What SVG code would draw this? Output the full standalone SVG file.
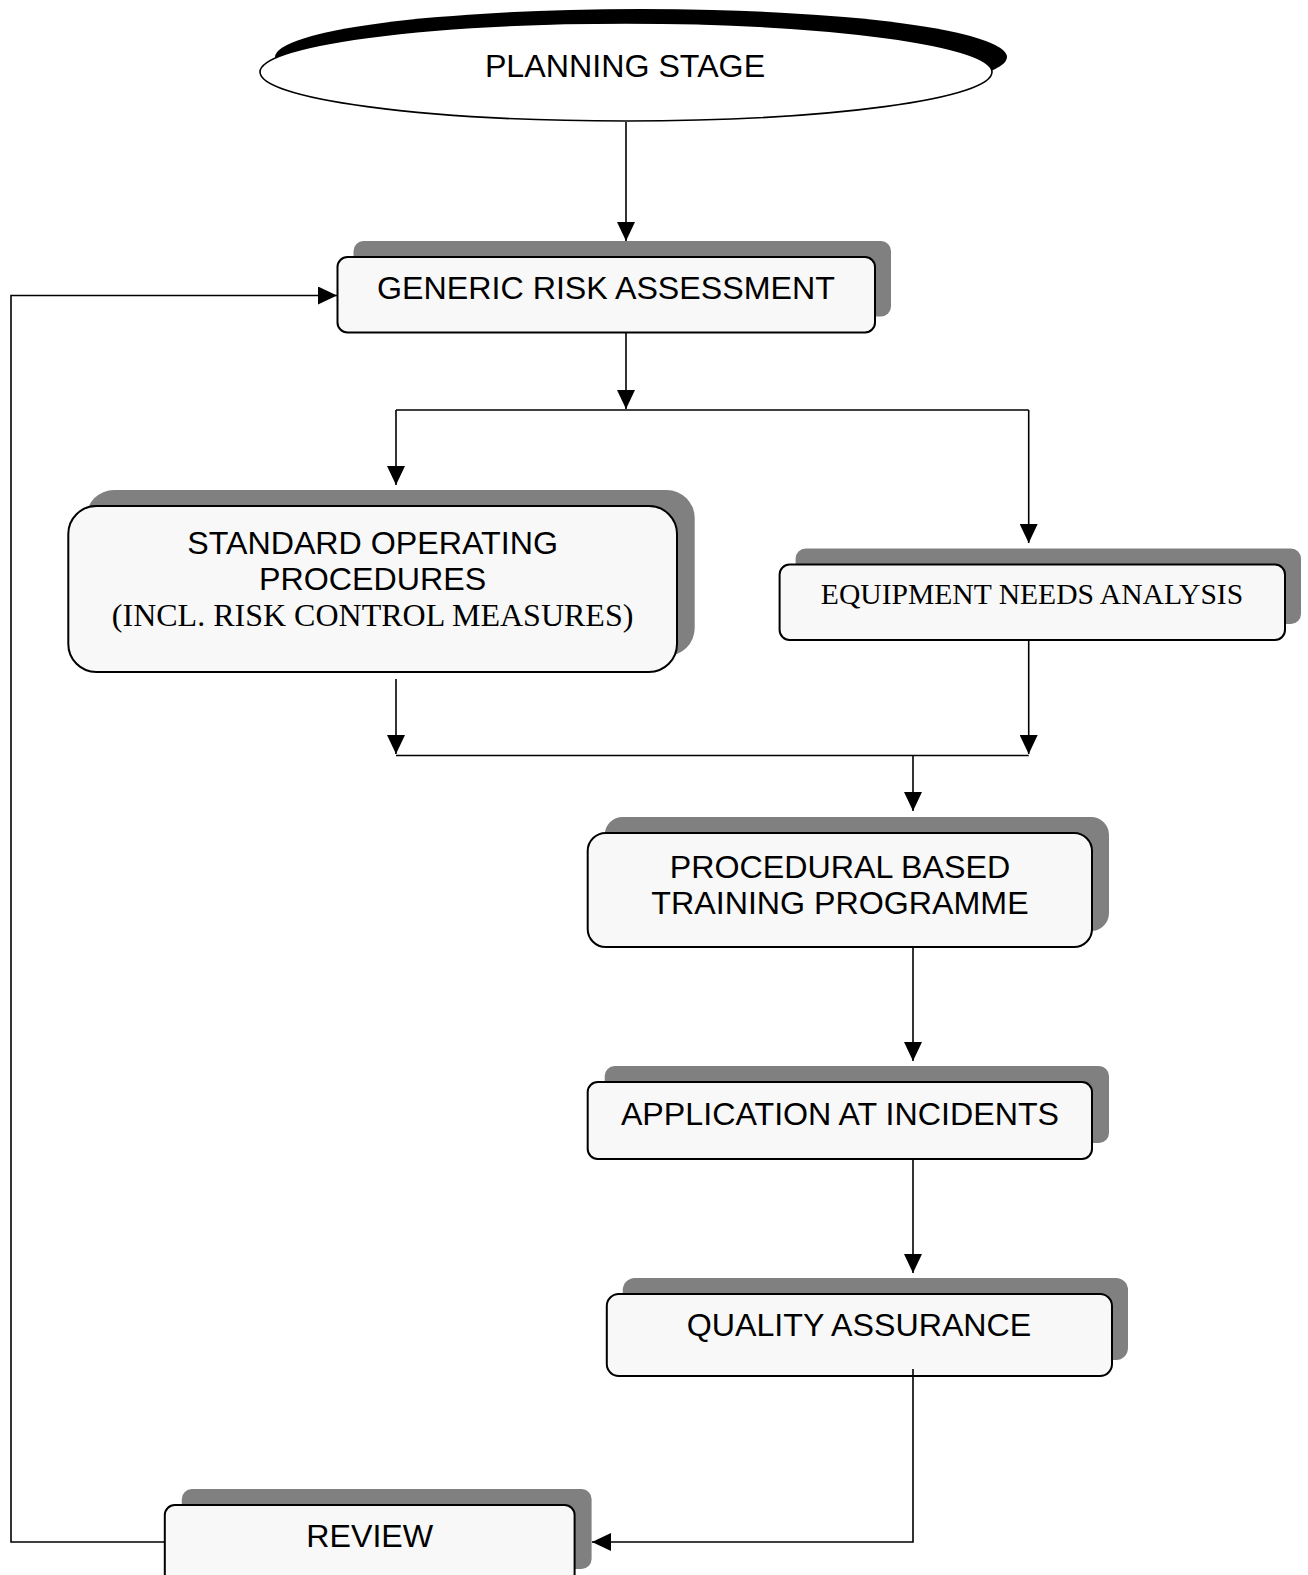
<svg xmlns="http://www.w3.org/2000/svg" width="1308" height="1575" viewBox="0 0 1308 1575">
<style>
.sh{fill:#808080;stroke:none}
.bx{fill:#f8f8f8;stroke:#000;stroke-width:2}
.a{font-family:"Liberation Sans",Arial,sans-serif;font-size:32.2px;fill:#000;text-anchor:middle}
.t{font-family:"Liberation Serif","Times New Roman",serif;font-size:32px;fill:#000;text-anchor:middle}
.c{fill:none;stroke:#000;stroke-width:1.6}
</style>
<defs>
<marker id="ah" viewBox="0 0 19 18" refX="19" refY="9" markerWidth="19" markerHeight="18" markerUnits="userSpaceOnUse" orient="auto">
<path d="M0,0 L19,9 L0,18 Z" fill="#000"/>
</marker>
</defs>
<rect width="1308" height="1575" fill="#fff"/>
<g id="planning">
<ellipse cx="641" cy="57" rx="366" ry="48" fill="#000"/>
<ellipse cx="626" cy="72" rx="366" ry="49" fill="#fff" stroke="#000" stroke-width="1.6"/>
<text class="a" x="625" y="77">PLANNING STAGE</text>
</g>
<g id="generic">
<rect class="sh" x="353.5" y="241" width="537.5" height="75.5" rx="10"/>
<rect class="bx" x="337.5" y="257" width="537.5" height="75.5" rx="10"/>
<text class="a" x="606" y="299">GENERIC RISK ASSESSMENT</text>
</g>
<g id="sop">
<rect class="sh" x="86" y="490" width="608.7" height="166" rx="28"/>
<rect class="bx" x="68.3" y="506" width="608.7" height="166" rx="28"/>
<text class="a" x="372.6" y="554">STANDARD OPERATING</text>
<text class="a" x="372.6" y="590">PROCEDURES</text>
<text class="t" x="372.6" y="626">(INCL. RISK CONTROL MEASURES)</text>
</g>
<g id="equipment">
<rect class="sh" x="795.6" y="548.6" width="505.4" height="75.4" rx="10"/>
<rect class="bx" x="779.6" y="564.6" width="505.4" height="75.4" rx="10"/>
<text class="t" x="1032" y="604" style="font-size:29.6px">EQUIPMENT NEEDS ANALYSIS</text>
</g>
<g id="procedural">
<rect class="sh" x="604.7" y="817" width="504.3" height="114" rx="18"/>
<rect class="bx" x="587.7" y="833" width="504.3" height="114" rx="18"/>
<text class="a" x="840" y="878">PROCEDURAL BASED</text>
<text class="a" x="840" y="914">TRAINING PROGRAMME</text>
</g>
<g id="application">
<rect class="sh" x="604.7" y="1066" width="504.3" height="77" rx="10"/>
<rect class="bx" x="587.7" y="1082" width="504.3" height="77" rx="10"/>
<text class="a" x="840" y="1125">APPLICATION AT INCIDENTS</text>
</g>
<g id="quality">
<rect class="sh" x="622.8" y="1278" width="505.2" height="82" rx="12"/>
<rect class="bx" x="606.8" y="1294" width="505.2" height="82" rx="12"/>
<text class="a" x="859" y="1336">QUALITY ASSURANCE</text>
</g>
<g id="review">
<rect class="sh" x="181.8" y="1489" width="409.8" height="80" rx="10"/>
<rect class="bx" x="164.8" y="1505" width="409.8" height="80" rx="10"/>
<text class="a" x="369.7" y="1547">REVIEW</text>
</g>
<g id="connectors">
<path class="c" d="M626,122 V241" marker-end="url(#ah)"/>
<path class="c" d="M626,333 V409" marker-end="url(#ah)"/>
<path class="c" d="M396,410 H1028.7"/>
<path class="c" d="M396,410 V485" marker-end="url(#ah)"/>
<path class="c" d="M1028.7,410 V543" marker-end="url(#ah)"/>
<path class="c" d="M396,679 V754" marker-end="url(#ah)"/>
<path class="c" d="M1028.7,641 V754" marker-end="url(#ah)"/>
<path class="c" d="M396,755.5 H1028.7"/>
<path class="c" d="M913,755.5 V811" marker-end="url(#ah)"/>
<path class="c" d="M913,948 V1061" marker-end="url(#ah)"/>
<path class="c" d="M913,1160 V1273" marker-end="url(#ah)"/>
<path class="c" d="M913,1369 V1542 H592" marker-end="url(#ah)"/>
<path class="c" d="M164,1542 H11 V295.5 H337" marker-end="url(#ah)"/>
</g>
</svg>
